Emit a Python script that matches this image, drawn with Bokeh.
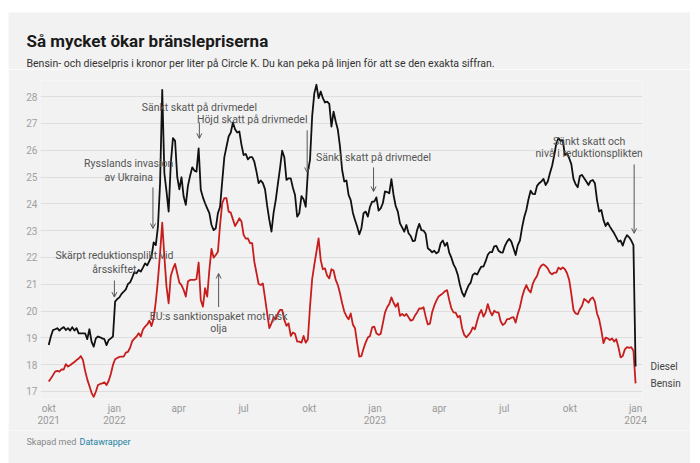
import pandas as pd
from bokeh.plotting import figure
from bokeh.models import (ColumnDataSource, Range1d, FixedTicker, CustomJSTickFormatter,
                          Label, Arrow, OpenHead, LinearAxis)
from bokeh.embed import file_html
from bokeh.resources import INLINE
from bokeh.core.properties import value

# ---------------- data ----------------
start_date = "2021-10-01"
step = "3D"

diesel = [18.73, 19.05, 19.29, 19.32, 19.36, 19.27, 19.35, 19.40, 19.29, 19.36,
          19.27, 19.40, 19.27, 19.36, 19.17, 19.17, 19.17, 19.17, 18.95, 19.32,
          18.86, 18.67, 18.98, 19.05, 19.02, 18.98, 18.95, 18.73, 18.92, 18.98,
          19.05, 20.35, 20.45, 20.51, 20.64, 20.72, 20.81, 21.01, 21.07, 21.25,
          21.45, 21.41, 21.53, 21.47, 21.62, 21.78, 21.70, 21.87, 22.03, 22.56,
          22.46, 23.15, 24.77, 28.25, 25.14, 24.46, 23.71, 25.51, 26.45, 26.35,
          25.01, 24.54, 24.99, 24.27, 23.96, 24.67, 25.04, 25.36, 25.24, 25.20,
          26.07, 24.52, 24.24, 24.02, 23.83, 23.65, 23.21, 23.02, 23.09, 23.65,
          23.89, 24.83, 25.74, 26.13, 26.51, 26.66, 27.03, 26.78, 26.66, 26.70,
          26.20, 25.82, 25.86, 25.66, 25.74, 25.74, 25.57, 25.20, 24.77, 24.87,
          24.77, 24.54, 23.92, 23.40, 22.96, 23.67, 24.14, 24.74, 25.33, 25.98,
          25.74, 24.89, 24.95, 24.95, 24.60, 24.33, 23.52, 23.65, 24.29, 24.17,
          23.89, 25.20, 25.64, 27.26, 28.12, 28.44, 27.94, 28.19, 27.94, 27.78,
          27.81, 27.73, 26.88, 27.44, 27.07, 26.76, 26.13, 25.26, 24.83, 24.87,
          24.33, 24.14, 23.67, 23.40, 23.15, 22.86, 23.09, 23.65, 23.71, 23.52,
          23.89, 24.08, 24.08, 24.24, 23.75, 23.83, 24.02, 24.46, 24.44, 24.39,
          24.92, 24.33, 23.92, 23.71, 23.27, 23.12, 22.96, 23.21, 22.90, 22.80,
          22.61, 22.63, 23.02, 23.25, 23.02, 23.00, 22.88, 22.34, 22.28, 22.19,
          22.25, 22.15, 22.21, 22.53, 22.63, 22.43, 22.55, 22.18, 21.99, 21.74,
          21.59, 21.35, 20.97, 20.69, 20.54, 20.76, 20.95, 21.06, 21.35, 21.41,
          21.36, 21.52, 21.66, 21.66, 21.86, 22.10, 22.20, 22.20, 22.41, 22.43,
          22.25, 22.19, 22.18, 22.43, 22.59, 22.69, 22.59, 22.34, 22.09, 22.46,
          22.63, 23.11, 23.50, 23.77, 24.17, 24.49, 24.37, 24.36, 24.67, 24.77,
          24.83, 24.93, 24.70, 24.83, 25.14, 25.41, 25.80, 26.26, 26.45, 26.35,
          26.38, 25.82, 25.89, 25.70, 25.48, 24.93, 24.73, 24.62, 25.04, 25.08,
          24.95, 24.83, 24.70, 24.85, 24.89, 24.77, 24.14, 23.71, 23.77, 23.40,
          23.17, 23.30, 23.15, 23.02, 22.90, 22.75, 22.59, 22.63, 22.44, 22.68,
          22.83, 22.75, 22.63, 22.46, 17.93]

bensin = [17.37, 17.48, 17.61, 17.74, 17.77, 17.74, 17.82, 17.82, 18.02, 17.93,
          17.98, 18.04, 18.10, 18.17, 18.23, 18.32, 18.17, 17.77, 17.45, 17.20,
          16.95, 16.80, 16.99, 17.24, 17.28, 17.30, 17.34, 17.24, 17.40, 17.65,
          17.99, 18.20, 18.25, 18.29, 18.30, 18.30, 18.45, 18.48, 18.63, 18.88,
          18.97, 19.05, 19.17, 19.05, 19.31, 19.42, 19.50, 19.64, 19.44, 19.73,
          20.35, 21.16, 22.15, 23.30, 22.03, 20.91, 20.29, 21.31, 21.57, 21.76,
          21.41, 21.06, 20.97, 20.79, 20.54, 21.10, 21.16, 21.16, 21.16, 21.20,
          21.81, 20.41, 20.16, 20.85, 20.54, 21.53, 22.32, 21.99, 22.09, 22.21,
          23.21, 24.02, 24.21, 24.21, 23.71, 23.67, 23.42, 23.17, 23.30, 23.46,
          23.34, 22.84, 22.70, 22.71, 22.53, 22.53, 21.84, 21.43, 21.01, 20.97,
          21.03, 20.48, 19.91, 19.36, 19.54, 19.77, 19.69, 19.91, 20.04, 20.04,
          19.67, 19.45, 19.54, 19.07, 19.20, 19.15, 18.86, 18.86, 18.82, 19.07,
          18.82, 18.95, 20.16, 21.19, 21.72, 22.21, 22.71, 21.90, 21.56, 21.59,
          21.32, 21.22, 21.56, 21.51, 21.16, 20.97, 20.66, 20.29, 19.98, 19.81,
          19.69, 19.91, 19.50, 19.36, 18.80, 18.30, 18.32, 18.60, 18.83, 19.01,
          19.07, 19.39, 19.42, 19.17, 19.11, 19.15, 19.54, 19.94, 20.14, 20.26,
          20.51, 20.31, 20.16, 20.29, 19.82, 19.89, 19.82, 19.89, 19.77, 19.64,
          19.67, 19.83, 19.95, 20.10, 20.09, 20.14, 19.79, 19.50, 19.53, 19.95,
          20.20, 20.39, 20.54, 20.60, 20.66, 20.74, 20.78, 20.41, 20.10, 19.95,
          19.94, 19.77, 19.82, 19.36, 19.11, 19.02, 19.11, 19.21, 19.39, 19.32,
          19.62, 19.89, 20.04, 19.79, 19.94, 20.26, 20.00, 19.84, 20.01, 19.95,
          19.95, 19.62, 19.48, 19.54, 19.70, 19.70, 19.75, 19.77, 19.57, 19.89,
          20.14, 20.51, 20.78, 20.97, 20.79, 20.69, 21.01, 21.19, 21.31, 21.57,
          21.70, 21.74, 21.68, 21.59, 21.43, 21.37, 21.43, 21.43, 21.62, 21.56,
          21.63, 21.56, 21.41, 21.16, 20.64, 20.04, 19.91, 19.88, 20.07, 20.20,
          20.45, 20.39, 20.31, 20.45, 20.51, 20.35, 19.91, 19.69, 19.29, 18.80,
          19.01, 18.98, 18.92, 18.98, 18.86, 18.95, 18.65, 18.27, 18.32, 18.57,
          18.65, 18.63, 18.65, 18.52, 17.30]

series_names = ["Diesel", "Bensin"]
y_ticks = [17, 18, 19, 20, 21, 22, 23, 24, 25, 26, 27, 28]
x_tick_dates = ["2021-10-01", "2022-01-01", "2022-04-01", "2022-07-01", "2022-10-01",
                "2023-01-01", "2023-04-01", "2023-07-01", "2023-10-01", "2024-01-01"]
x_tick_labels = ["okt\n2021", "jan\n2022", "apr", "jul", "okt",
                 "jan\n2023", "apr", "jul", "okt", "jan\n2024"]

title_text = "Så mycket ökar bränslepriserna"
subtitle_text = ("Bensin- och dieselpris i kronor per liter på Circle K. "
                 "Du kan peka på linjen för att se den exakta siffran.")
footer_text = "Skapad med"
footer_link = "Datawrapper"

# annotations: (date, value, text)
notes = [
    ("2022-01-01", 22.06, "Skärpt reduktionsplikt vid"),
    ("2022-01-01", 21.55, "årsskiftet"),
    ("2022-01-21", 25.51, "Rysslands invasion"),
    ("2022-01-21", 24.99, "av Ukraina"),
    ("2022-04-30", 27.60, "Sänkt skatt på drivmedel"),
    ("2022-07-13", 27.15, "Höjd skatt på drivmedel"),
    ("2022-12-30", 25.73, "Sänkt skatt på drivmedel"),
    ("2023-10-28", 26.34, "Sänkt skatt och"),
    ("2023-10-28", 25.88, "nivå i reduktionsplikten"),
    ("2022-05-27", 19.81, "EU:s sanktionspaket mot rysk"),
    ("2022-05-27", 19.36, "olja"),
]
# arrows: (date, value_from, value_to)
arrows = [
    ("2022-01-01", 21.14, 20.52),
    ("2022-02-24", 24.61, 23.08),
    ("2022-04-30", 27.04, 26.44),
    ("2022-09-28", 26.74, 25.17),
    ("2022-12-30", 25.36, 24.46),
    ("2023-12-30", 25.47, 22.90),
    ("2022-05-27", 20.15, 21.40),
]

# ---------------- layout ----------------
W = 682
HEAD_H, MAIN_H, FOOT_H = 57, 361, 33
FL, FW = 32, 602
TOP, FH = 11, 319
Y0, Y1 = 16.7, 28.6
BG = "#f2f2f2"
FONT = "Roboto"
t0 = pd.Timestamp(start_date)
X0 = (t0 - pd.Timedelta(days=11.5)).value / 1e6
X1 = (t0 + pd.Timedelta(days=831.7)).value / 1e6


def ms(d):
    return pd.Timestamp(d).value / 1e6


def blank(h):
    f = figure(width=W, height=h, output_backend="svg", toolbar_location=None,
               x_range=Range1d(0, W), y_range=Range1d(h, 0),
               x_axis_location=None, y_axis_location=None,
               min_border_left=0, min_border_right=0, min_border_top=0, min_border_bottom=0)
    f.background_fill_color = BG
    f.border_fill_color = BG
    f.outline_line_color = None
    f.grid.grid_line_color = None
    return f


# header
head = blank(HEAD_H)
head.margin = (12, 10, 0, 8)
head.add_layout(Label(x=18, y=28, text=title_text, text_font=FONT, text_font_size="17px",
                      text_font_style="bold", text_color="#1a1a1a", text_baseline="middle"))
head.add_layout(Label(x=18, y=51, text=subtitle_text, text_font=FONT, text_font_size="10.5px",
                      text_color="#333333", text_baseline="middle"))

# main chart
dates = pd.date_range(start_date, periods=len(diesel), freq=step)
src = ColumnDataSource(dict(date=dates, diesel=diesel, bensin=bensin))

p = figure(width=W, height=MAIN_H, x_axis_type="datetime", output_backend="svg",
           toolbar_location=None, x_range=Range1d(X0, X1), y_range=Range1d(Y0, Y1),
           min_border_left=FL, min_border_right=W - FL - FW,
           min_border_top=TOP, min_border_bottom=MAIN_H - TOP - FH)
p.margin = (0, 10, 0, 8)
p.background_fill_color = BG
p.border_fill_color = BG
p.outline_line_color = None

p.line("date", "bensin", source=src, line_color="#c71e1d", line_width=1.8, line_join="round")
p.line("date", "diesel", source=src, line_color="#111111", line_width=1.8, line_join="round")

p.yaxis.ticker = FixedTicker(ticks=y_ticks)
p.ygrid.ticker = FixedTicker(ticks=y_ticks)
p.ygrid.grid_line_color = "#dedede"
p.xgrid.grid_line_color = None
for ax in (p.xaxis, p.yaxis):
    ax.axis_line_color = None
    ax.major_tick_line_color = None
    ax.minor_tick_line_color = None
    ax.major_label_text_font = FONT
    ax.major_label_text_font_size = "10px"
p.yaxis.major_label_standoff = -3
p.xaxis.major_label_standoff = -3
p.xaxis.major_label_text_line_height = 1.1
p.yaxis.major_label_text_color = "#a0a0a0"
p.xaxis.major_label_text_color = "#999999"

tick_ms = [ms(d) for d in x_tick_dates]
p.xaxis.ticker = FixedTicker(ticks=tick_ms)
p.xaxis.formatter = CustomJSTickFormatter(args=dict(t=tick_ms, l=x_tick_labels), code="""
    const i = t.indexOf(tick);
    return i >= 0 ? l[i] : "";
""")

# series end labels on a right-hand axis
end_vals = [diesel[-1], bensin[-1]]
rax = LinearAxis(ticker=FixedTicker(ticks=end_vals),
                 formatter=CustomJSTickFormatter(args=dict(t=end_vals, l=series_names), code="""
    const i = t.indexOf(tick);
    return i >= 0 ? l[i] : "";
"""))
rax.axis_line_color = None
rax.major_tick_line_color = None
rax.minor_tick_line_color = None
rax.major_label_text_font = FONT
rax.major_label_text_font_size = "10px"
rax.major_label_text_color = "#444444"
rax.major_label_standoff = 2
p.add_layout(rax, "right")

# annotation texts and arrows
nsrc = ColumnDataSource(dict(x=[ms(d) for d, _, _ in notes], y=[v for _, v, _ in notes],
                             t=[s for _, _, s in notes]))
p.text("x", "y", "t", source=nsrc, text_font=value(FONT), text_font_size="10.5px",
       text_color="#555555", text_align="center", text_baseline="middle")

for d, a, b in arrows:
    p.add_layout(Arrow(end=OpenHead(size=5, line_color="#555555", line_width=1),
                       x_start=ms(d), y_start=a, x_end=ms(d), y_end=b,
                       line_color="#555555", line_width=1))

# footer
foot = blank(FOOT_H)
foot.margin = (0, 10, 0, 8)
foot.add_layout(Label(x=18, y=11, text=footer_text, text_font=FONT, text_font_size="9px",
                      text_color="#888888", text_baseline="middle"))
foot.add_layout(Label(x=71, y=11, text=footer_link, text_font=FONT, text_font_size="9px",
                      text_color="#1d81a2", text_baseline="middle"))

open("out.html", "w").write(file_html([head, p, foot], INLINE))
